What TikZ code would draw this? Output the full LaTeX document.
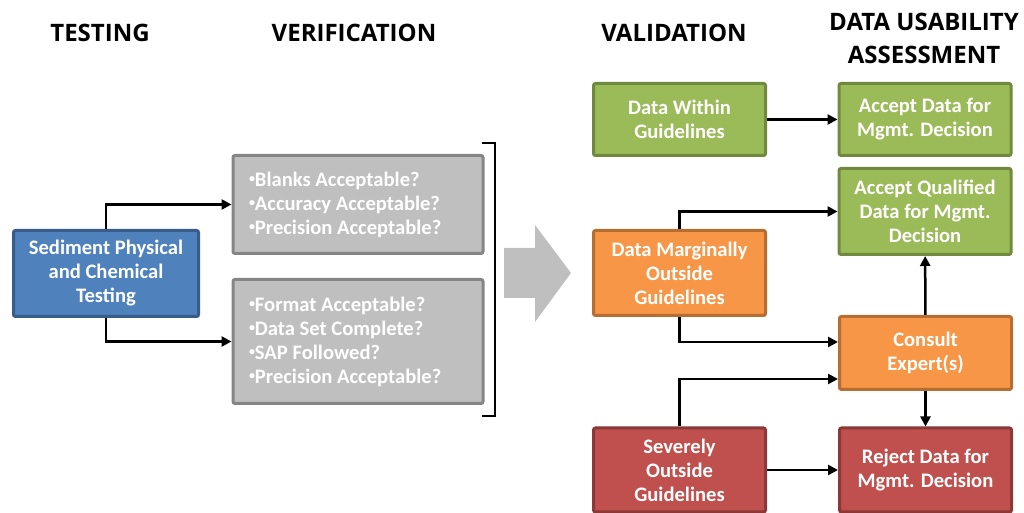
\documentclass[tikz,border=0pt]{standalone}
\usepackage{fontspec}
\setmainfont{Carlito}
\newfontfamily\headfont{Open Sans}
\usetikzlibrary{arrows.meta}

\definecolor{blueFill}{HTML}{4F81BD}
\definecolor{blueLine}{HTML}{385D8A}
\definecolor{grayFill}{HTML}{BFBFBF}
\definecolor{grayLine}{HTML}{858585}
\definecolor{greenFill}{HTML}{9BBB59}
\definecolor{greenLine}{HTML}{71893F}
\definecolor{orangeFill}{HTML}{F79646}
\definecolor{orangeLine}{HTML}{B66D31}
\definecolor{redFill}{HTML}{C0504D}
\definecolor{redLine}{HTML}{8C3836}

% small raised bullet of the check lists
\newcommand{\chkdot}{\raisebox{4pt}{\fontsize{12}{12}\selectfont•}}

\tikzset{
  box/.style={draw, line width=3pt, rounded corners=2pt, text=white, inner sep=0pt,
    font=\bfseries\fontsize{20.6}{24}\selectfont, align=center},
  head/.style={font=\headfont\bfseries\fontsize{24}{33}\selectfont, align=center},
  check/.style={box, fill=grayFill, draw=grayLine, align=flush left, text width=218pt,
    inner xsep=16pt, minimum width=247pt},
}

\begin{document}
\begin{tikzpicture}[x=1pt, y=1pt, >={Triangle[length=10pt,width=10pt]}]
        \useasboundingbox (0,0) rectangle (1024,513);
        % column titles
        \node[head] (hTest) at (100, 480) {TESTING};
        \node[head] (hVer) at (354, 480) {VERIFICATION};
        \node[head] (hVal) at (674, 480) {VALIDATION};
        \node[head] (hUse) at (924, 475) {DATA USABILITY\\ASSESSMENT};
        % testing and verification
        \node[box, fill=blueFill, draw=blueLine, minimum width=185pt, minimum height=86pt] (test) at (106, 239.5)
            {Sediment Physical\\and Chemical\\Testing};
        \node[check, minimum height=98pt] (ver1) at (358, 308.5)
            {\chkdot Blanks Acceptable?\\\chkdot Accuracy Acceptable?\\\chkdot Precision Acceptable?};
        \node[check, minimum height=124pt] (ver2) at (358, 171.5)
            {\chkdot Format Acceptable?\\\chkdot Data Set Complete?\\\chkdot SAP Followed?\\\chkdot Precision Acceptable?};
        \draw[->, line width=2.5pt] (test.north) |- (ver1.west);
        \draw[->, line width=2.5pt] (test.south) |- (ver2.west);
        % bracket and big arrow
        \draw[line width=2.5pt] (482, 370) -- (495, 370) -- (495, 97) -- (482, 97);
        \fill[grayFill] (504, 265) -- (535, 265) -- (535, 288) -- (571, 240)
            -- (535, 191) -- (535, 215) -- (504, 215) -- cycle;
        % validation
        \node[box, fill=greenFill, draw=greenLine, minimum width=172pt, minimum height=72pt] (within) at (679.5, 393.5)
            {Data Within\\Guidelines};
        \node[box, fill=orangeFill, draw=orangeLine, minimum width=172pt, minimum height=85pt] (marg) at (679.5, 240)
            {Data Marginally\\Outside\\Guidelines};
        \node[box, fill=redFill, draw=redLine, minimum width=172pt, minimum height=84pt] (severe) at (679.5, 43)
            {Severely\\Outside\\Guidelines};
        % data usability assessment
        \node[box, fill=greenFill, draw=greenLine, minimum width=172pt, minimum height=72pt] (accept) at (925, 393.5)
            {Accept Data for\\Mgmt. Decision};
        \node[box, fill=greenFill, draw=greenLine, minimum width=172pt, minimum height=86pt] (qual) at (925, 301.5)
            {Accept Qualified\\Data for Mgmt.\\Decision};
        \node[box, fill=orangeFill, draw=orangeLine, minimum width=172pt, minimum height=73pt] (consult) at (925.5, 160)
            {Consult\\Expert(s)};
        \node[box, fill=redFill, draw=redLine, minimum width=172pt, minimum height=84pt] (reject) at (925.5, 43)
            {Reject Data for\\Mgmt. Decision};
        \draw[->, line width=2.5pt] (within) -- (accept);
        \draw[->, line width=2.5pt] (marg.north) |- (qual.west);
        \draw[->, line width=2.5pt] (marg.south) |- ([yshift=11pt]consult.west);
        \draw[->, line width=2.5pt] (severe.north) |- ([yshift=-26pt]consult.west);
        \draw[->, line width=2.5pt] (severe) -- (reject);
        \draw[->, line width=2.5pt] (consult) -- (qual);
        \draw[->, line width=2.5pt] (consult) -- (reject);
\end{tikzpicture}
\end{document}
